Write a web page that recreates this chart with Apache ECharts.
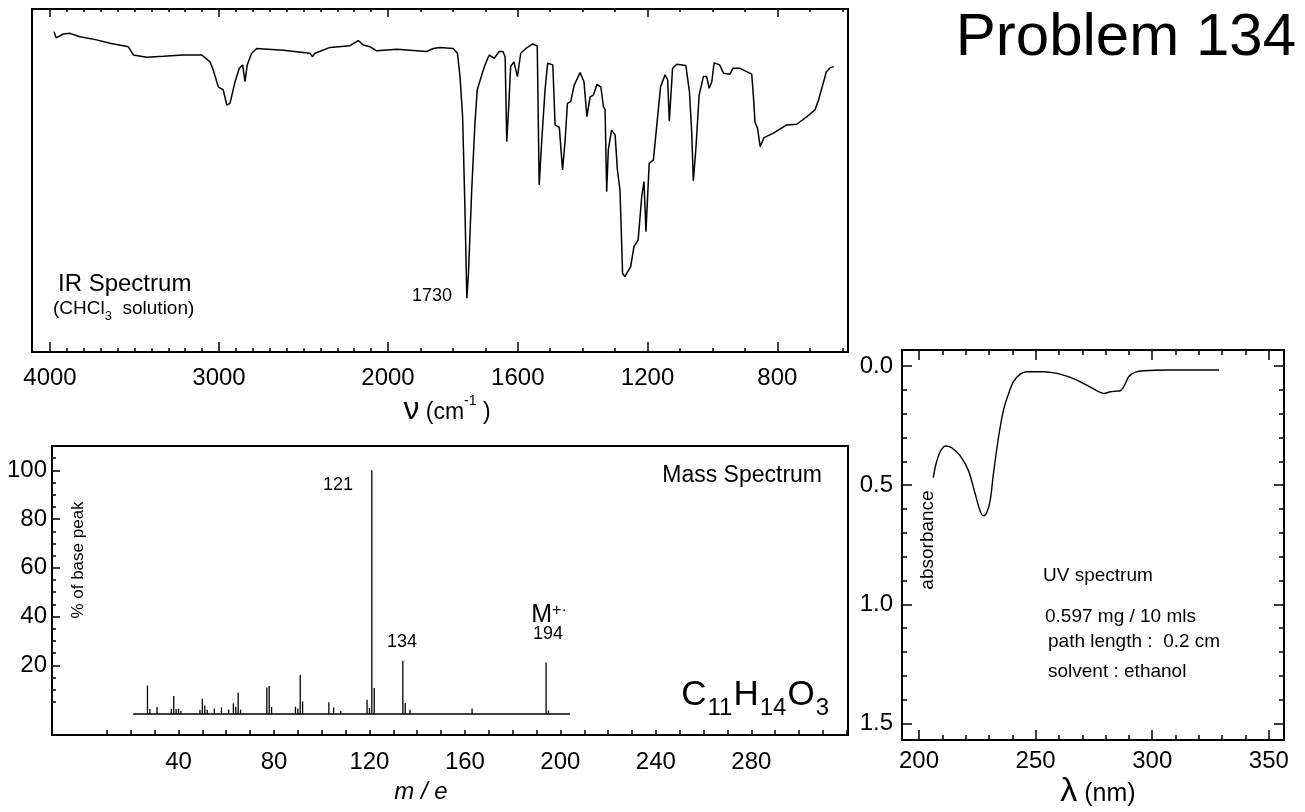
<!DOCTYPE html>
<html><head><meta charset="utf-8">
<script src="https://cdn.jsdelivr.net/npm/echarts@6/dist/echarts.min.js"></script>
<style>html,body{margin:0;padding:0;background:#fff}#c{width:1305px;height:812px}</style>
</head><body><div id="c"></div>
<script>
// ---------- IR spectrum (wavenumber cm-1, % transmittance) ----------
const irWavenumber = [3976,3964,3921,3882,3822,3724,3645,3537,3507,3428,
 3330,3211,3102,3053,3034,3004,2975,2954,2935,2905,
 2880,2860,2846,2833,2807,2777,2620,2462,2446,2432,
 2343,2225,2176,2146,2107,2067,1973,1881,1860,1840,
 1799,1786,1778,1770,1763,1757,1752,1742,1732,1725,
 1711,1701,1688,1673,1657,1646,1639,1634,1628,1622,
 1612,1601,1591,1575,1554,1540,1534,1526,1516,1508,
 1492,1485,1472,1462,1454,1447,1437,1426,1408,1396,
 1387,1377,1367,1356,1344,1336,1331,1326,1321,1311,
 1300,1293,1285,1277,1270,1252,1242,1229,1218,1211,
 1205,1195,1182,1172,1160,1146,1138,1133,1123,1110,
 1082,1071,1064,1059,1051,1041,1028,1018,1010,1002,
 995,978,966,946,937,915,879,874,869,861,
 853,841,812,771,740,709,684,673,663,649,
 637,626];
const irTransmittance = [93.4,91.6,92.7,92.9,91.9,91.0,90.0,89.0,86.6,85.9,
 86.2,86.6,86.6,84.6,82.2,77.3,76.4,72.0,72.5,78.8,
 82.7,83.7,78.8,83.7,87.1,88.5,88.0,87.1,86.1,87.1,
 88.8,89.3,90.8,89.5,89.0,87.8,88.3,87.6,88.5,88.8,
 88.5,87.1,80.3,68.6,42.4,15.7,22.9,47.2,66.7,76.4,
 80.8,83.7,86.6,85.6,87.6,87.6,86.1,61.3,71.5,83.2,
 84.6,80.3,87.1,88.5,89.8,89.2,48.7,61.8,76.4,84.2,
 83.7,66.2,65.5,53.1,61.8,72.5,73.0,77.8,81.5,78.8,
 68.6,74.4,74.9,78.0,77.3,71.5,70.6,46.7,58.9,64.7,
 63.3,53.1,47.2,22.9,22.0,24.9,30.7,32.7,45.3,49.7,
 35.1,55.0,56.0,65.7,77.3,80.8,79.3,67.3,82.7,83.9,
 83.5,75.9,64.2,49.9,59.4,74.9,80.3,80.3,76.9,78.8,
 84.3,83.7,81.3,81.0,82.7,82.7,81.0,74.9,67.1,65.2,
 59.9,62.5,63.8,66.2,66.4,68.6,70.6,73.5,76.9,81.7,
 82.9,83.2];
const irLabelTicks = [4000,3000,2000,1600,1200,800];
const irMinorStep = 100, irMinorFrom = 4000, irMinorTo = 600;

// ---------- Mass spectrum (m/e, % of base peak) ----------
const msMass = [27,28,31,37,38,39,40,41,49,50,51,52,55,58,61,63,64,65,66,
 77,78,79,89,90,91,92,103,105,108,119,120,121,122,134,135,137,163,194,195];
const msIntensity = [11.7,2.1,2.9,2.2,7.4,2.1,2.2,1.4,1.8,6.3,3.5,1.8,2.3,2.7,1.8,4.4,3.0,8.7,1.8,
 10.9,11.5,2.9,3.0,2.3,16.1,5.2,4.8,2.7,1.2,5.9,2.5,100,10.7,21.9,4.5,1.8,2.3,21.2,1.5];
const msBaseline = [21, 204];
const msXLabels = [40,80,120,160,200,240,280];
const msYLabels = [20,40,60,80,100];

// ---------- UV spectrum (nm, absorbance) ----------
const uvWavelength = [206.1,207.3,209.0,210.5,211.5,214.0,217.6,221.2,224.1,226.2,227.7,229.1,230.5,231.9,
 234.1,236.2,238.4,240.5,243.4,246.3,253.4,259.2,264.9,270.6,276.3,279.2,282.1,284.2,286.3,288.1,
 289.9,292.8,296.4,306.4,317.8,328.6];
const uvAbsorbance = [0.468,0.410,0.361,0.340,0.336,0.343,0.376,0.439,0.537,0.608,0.629,0.614,0.565,0.453,
 0.298,0.186,0.116,0.066,0.034,0.024,0.024,0.031,0.048,0.074,0.104,0.115,0.108,0.106,0.104,0.081,
 0.045,0.026,0.020,0.017,0.017,0.017];
const uvXLabels = [200,250,300,350];
const uvYLabels = [0,0.5,1.0,1.5];

// ---------- helpers ----------
const FONT = '"Liberation Sans", Arial, Helvetica, sans-serif';
const IR_K = 1.92; // scale change of the IR chart paper at 2000 cm-1
const irT = nu => nu >= 2000 ? 4000 - nu : 2000 + (2000 - nu) * IR_K;
const irNu = t => t <= 2000 ? 4000 - t : 2000 - (t - 2000) / IR_K;
function range(a, b, s) { const r = []; for (let v = a; v <= b + 1e-9; v += s) r.push(Math.round(v * 1000) / 1000); return r; }
const irMinor = range(irMinorTo, irMinorFrom, irMinorStep).filter(v => irLabelTicks.indexOf(v) < 0).map(irT);
const irMajor = irLabelTicks.map(irT);

const lbl = {color: '#000', fontFamily: FONT, fontSize: 24};
function tickAxis(base, vals, len, opts) {
  return Object.assign({
    type: 'value', axisLine: {show: false, onZero: false}, splitLine: {show: false},
    axisTick: {show: true, inside: true, length: len, customValues: vals, lineStyle: {color: '#000', width: 1.5}},
    axisLabel: {show: false}
  }, base, opts || {});
}

const irX = {gridIndex: 0, min: -106.5, max: 4722};
const msX = {gridIndex: 1, min: -13, max: 320.5};
const uvX = {gridIndex: 2, min: 192.7, max: 356.5};
const irY = {gridIndex: 0, min: 0, max: 100};
const msY = {gridIndex: 1, min: -8.6, max: 110};
const uvY = {gridIndex: 2, min: -0.067, max: 1.569, inverse: true};

const uvMinorX = range(200, 350, 10).filter(v => uvXLabels.indexOf(v) < 0);
const uvMinorY = range(0, 1.5, 0.1).filter(v => !uvYLabels.some(u => Math.abs(u - v) < 1e-6));

const xAxes = [
  // IR
  tickAxis(Object.assign({position: 'bottom'}, irX), irMajor, 10, {
    axisLabel: Object.assign({show: true, customValues: irMajor, margin: 14,
      formatter: v => String(Math.round(irNu(v)))}, lbl)}),
  tickAxis(Object.assign({position: 'bottom'}, irX), irMinor, 4),
  tickAxis(Object.assign({position: 'top'}, irX), irMajor, 8),
  tickAxis(Object.assign({position: 'top'}, irX), irMinor, 3),
  // MS
  tickAxis(Object.assign({position: 'bottom'}, msX), range(10, 320, 10), 5, {
    axisLabel: Object.assign({show: true, customValues: msXLabels, margin: 15}, lbl)}),
  // UV
  tickAxis(Object.assign({position: 'bottom'}, uvX), uvXLabels, 10, {
    axisLabel: Object.assign({show: true, customValues: uvXLabels, margin: 9}, lbl)}),
  tickAxis(Object.assign({position: 'bottom'}, uvX), uvMinorX, 5),
  tickAxis(Object.assign({position: 'top'}, uvX), uvXLabels, 10),
  tickAxis(Object.assign({position: 'top'}, uvX), uvMinorX, 5)
];
const yAxes = [
  tickAxis(Object.assign({position: 'left'}, irY), [], 0, {axisTick: {show: false}}),
  tickAxis(Object.assign({position: 'left'}, msY), range(5, 105, 5), 4, {
    axisLabel: Object.assign({show: true, customValues: msYLabels, margin: 5}, lbl)}),
  tickAxis(Object.assign({position: 'left'}, msY), msYLabels, 8),
  tickAxis(Object.assign({position: 'left'}, uvY), uvYLabels, 10, {
    axisLabel: Object.assign({show: true, customValues: uvYLabels, margin: 9,
      formatter: v => Number(v).toFixed(1)}, lbl)}),
  tickAxis(Object.assign({position: 'left'}, uvY), uvMinorY, 5),
  tickAxis(Object.assign({position: 'right'}, uvY), uvYLabels, 10),
  tickAxis(Object.assign({position: 'right'}, uvY), uvMinorY, 5)
];

function txt(x, y, text, size, opts) {
  return {type: 'text', x: x, y: y, rotation: (opts && opts.rotation) || 0, silent: true,
    style: Object.assign({text: text, fill: '#000', fontFamily: FONT, fontSize: size,
      align: 'center', verticalAlign: 'middle', textAlign: 'center', textVerticalAlign: 'middle'},
      (opts && opts.style) || {})};
}
const L = {align: 'left', textAlign: 'left'};
const R = {align: 'right', textAlign: 'right'};

const graphics = [
  txt(1296, 38, 'Problem 134', 60, {style: R}),
  txt(58, 284, 'IR Spectrum', 24, {style: L}),
  txt(53, 311, '{a|(CHCl}{s|3}{a|  solution)}', 19, {style: Object.assign({rich: {
    a: {fontSize: 19, fontFamily: FONT, verticalAlign: 'bottom', padding: [0, 0, 5, 0]},
    s: {fontSize: 13, fontFamily: FONT, verticalAlign: 'bottom'}}}, L)}),
  txt(432, 296, '1730', 18),
  txt(447, 410, '{n|ν}{a| (cm}{s|-1}{a| )}', 24, {style: {rich: {
    n: {fontSize: 32, fontFamily: FONT, verticalAlign: 'bottom'},
    a: {fontSize: 23, fontFamily: FONT, verticalAlign: 'bottom', padding: [0, 0, 2, 0]},
    s: {fontSize: 14, fontFamily: FONT, verticalAlign: 'top'}}}}),
  txt(822, 476, 'Mass Spectrum', 23, {style: R}),
  txt(338, 485, '121', 18),
  txt(402, 642, '134', 18),
  txt(549, 615, '{m|M}{s|+·}', 24, {style: {rich: {
    m: {fontSize: 25, fontFamily: FONT, verticalAlign: 'bottom'},
    s: {fontSize: 16, fontFamily: FONT, verticalAlign: 'top'}}}}),
  txt(548, 634, '194', 18),
  txt(830, 699, '{b|C}{s|11}{b|H}{s|14}{b|O}{s|3}', 35, {style: Object.assign({rich: {
    b: {fontSize: 35, fontFamily: FONT, verticalAlign: 'bottom', padding: [0, 0, 7, 0]},
    s: {fontSize: 24, fontFamily: FONT, verticalAlign: 'bottom', padding: [0, 1, 0, 1]}}}, R)}),
  txt(78, 560, '% of base peak', 17, {rotation: Math.PI / 2}),
  txt(421, 792, 'm / e', 24, {style: {fontStyle: 'italic'}}),
  txt(928, 540, 'absorbance', 19, {rotation: Math.PI / 2}),
  txt(1043, 576, 'UV spectrum', 19, {style: L}),
  txt(1045, 617, '0.597 mg / 10 mls', 19, {style: L}),
  txt(1048, 642, 'path length :  0.2 cm', 19, {style: L}),
  txt(1048, 672, 'solvent : ethanol', 19, {style: L}),
  txt(1098, 792, '{l|λ}{a| (nm)}', 24, {style: {rich: {
    l: {fontSize: 34, fontFamily: FONT, verticalAlign: 'bottom'},
    a: {fontSize: 25, fontFamily: FONT, verticalAlign: 'bottom', padding: [0, 0, 2, 0]}}}})
];

const chart = echarts.init(document.getElementById('c'), null, {renderer: 'canvas'});
chart.setOption({
  animation: false,
  backgroundColor: '#fff',
  grid: [
    {left: 32, top: 9, width: 816, height: 343, show: true, borderColor: '#000', borderWidth: 2, containLabel: false},
    {left: 52, top: 446, width: 796, height: 289, show: true, borderColor: '#000', borderWidth: 2, containLabel: false},
    {left: 902, top: 350, width: 382, height: 390, show: true, borderColor: '#000', borderWidth: 2, containLabel: false}
  ],
  xAxis: xAxes,
  yAxis: yAxes,
  series: [
    {type: 'line', xAxisIndex: 0, yAxisIndex: 0, showSymbol: false, symbol: 'none',
      lineStyle: {color: '#000', width: 1.5},
      data: irWavenumber.map((n, i) => [irT(n), irTransmittance[i]])},
    {type: 'line', xAxisIndex: 4, yAxisIndex: 1, showSymbol: false, symbol: 'none',
      lineStyle: {color: '#000', width: 1.4},
      data: msBaseline.map(m => [m, 0])},
    {type: 'bar', xAxisIndex: 4, yAxisIndex: 1, barWidth: 1.3,
      itemStyle: {color: '#000'},
      data: msMass.map((m, i) => [m, msIntensity[i]])},
    {type: 'line', xAxisIndex: 5, yAxisIndex: 3, showSymbol: false, symbol: 'none', smooth: 0.3,
      lineStyle: {color: '#000', width: 1.4},
      data: uvWavelength.map((w, i) => [w, uvAbsorbance[i]])}
  ],
  graphic: {elements: graphics}
});
</script>
</body></html>
